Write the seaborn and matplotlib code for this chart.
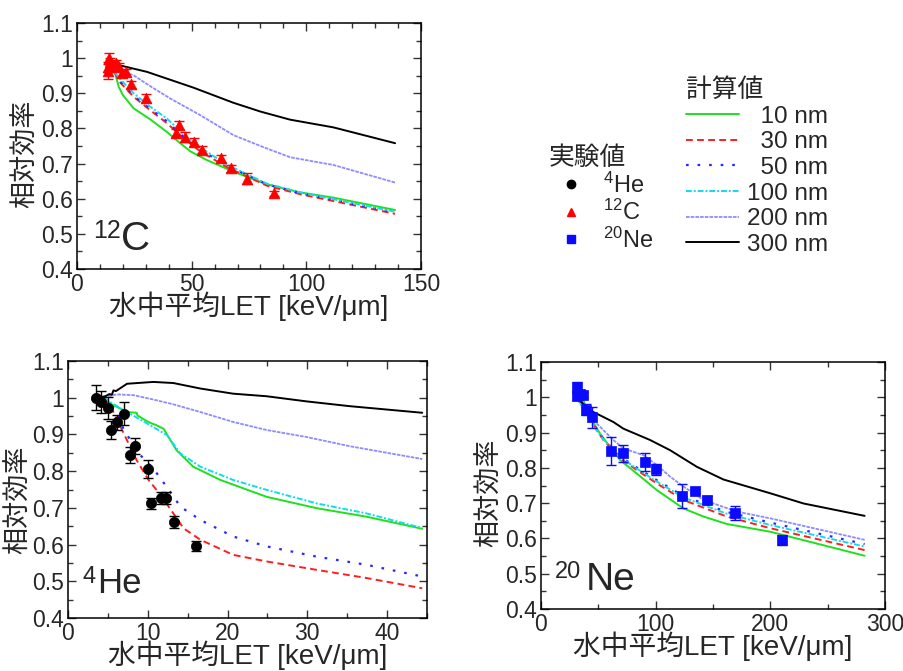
import numpy as np
import pandas as pd
import matplotlib
matplotlib.use("Agg")
import matplotlib.pyplot as plt
from matplotlib.lines import Line2D
from matplotlib.ticker import MultipleLocator
import seaborn as sns

# ---------------- data ----------------
sizes = ["10 nm", "30 nm", "50 nm", "100 nm", "200 nm", "300 nm"]

# 12C calculated curves
c10_x = [16.5, 18.2, 20, 24.7, 31.9, 39.2, 45, 49.4, 56.6, 68.2, 82.8, 97.3, 111.8, 138.7]
c10_y = [0.96, 0.918, 0.895, 0.857, 0.826, 0.79, 0.758, 0.735, 0.71, 0.677, 0.641, 0.618, 0.603, 0.568]
c30_x = [16.5, 18.2, 24.7, 31.9, 39.2, 46.5, 53.7, 65.3, 82.8, 97.3, 138.7]
c30_y = [0.96, 0.935, 0.89, 0.852, 0.815, 0.772, 0.735, 0.69, 0.637, 0.613, 0.557]
c50_y = [0.96, 0.938, 0.893, 0.856, 0.82, 0.776, 0.74, 0.694, 0.641, 0.616, 0.561]
c100_y = [0.96, 0.945, 0.90, 0.862, 0.828, 0.783, 0.746, 0.697, 0.643, 0.618, 0.563]
c200_x = [17, 24.7, 32, 40.7, 53.7, 68.2, 80, 92.9, 111.8, 138.7]
c200_y = [0.970, 0.951, 0.92, 0.885, 0.838, 0.781, 0.75, 0.718, 0.696, 0.646]
c300_x = [17, 30.5, 50.8, 68.2, 80, 92.9, 111.8, 138.7]
c300_y = [0.982, 0.961, 0.916, 0.873, 0.848, 0.825, 0.803, 0.758]

# 12C experiment
c_exp_x = [13.5, 13.6, 13.8, 14.5, 15.2, 16.0, 17.0, 18.2, 19.6, 21.5, 23.4, 30.2, 43.3, 44.3, 47.3, 50.8, 54.3, 62.7, 67.1, 74.1, 85.7]
c_exp_y = [0.962, 0.975, 0.999, 0.99, 0.982, 0.978, 0.985, 0.975, 0.957, 0.960, 0.925, 0.886, 0.787, 0.810, 0.776, 0.762, 0.739, 0.715, 0.686, 0.657, 0.615]
c_exp_e = [0.02, 0.015, 0.015, 0.01, 0.01, 0.015, 0.01, 0.01, 0.01, 0.01, 0.01, 0.012, 0.012, 0.012, 0.015, 0.012, 0.01, 0.01, 0.01, 0.015, 0.008]

# 4He calculated curves
he10_x = [4.5, 5.3, 7.4, 8.6, 8.7, 9.9, 10.5, 11.1, 12.0, 12.6, 13.6, 15.7, 19.1, 24.9, 31.2, 37.4, 44.4]
he10_y = [1.0, 0.984, 0.961, 0.959, 0.952, 0.936, 0.930, 0.925, 0.915, 0.893, 0.857, 0.812, 0.776, 0.730, 0.699, 0.676, 0.643]
he30_x = [4.5, 5.7, 7.2, 8.6, 10.1, 11.6, 13.2, 14.5, 16.6, 20.7, 24.9, 31.2, 37.4, 44.4]
he30_y = [1.0, 0.961, 0.893, 0.830, 0.776, 0.735, 0.685, 0.644, 0.613, 0.572, 0.554, 0.531, 0.509, 0.481]
he50_x = [4.5, 6.1, 7.0, 9.05, 10.7, 12.8, 14.1, 16.6, 20.7, 24.9, 31.2, 37.4, 44.4]
he50_y = [1.0, 0.963, 0.912, 0.844, 0.807, 0.744, 0.703, 0.667, 0.622, 0.595, 0.567, 0.545, 0.513]
he100_x = [4.5, 5.3, 7.4, 9.9, 12.4, 14.1, 16.6, 20.7, 24.9, 31.2, 37.4, 44.4]
he100_y = [1.0, 0.988, 0.961, 0.930, 0.898, 0.848, 0.812, 0.776, 0.749, 0.712, 0.685, 0.645]
he200_x = [4.46, 6.1, 8.2, 10.7, 13.2, 16.6, 20.7, 24.9, 29.9, 35.3, 44.4]
he200_y = [1.001, 1.009, 1.007, 0.995, 0.982, 0.961, 0.934, 0.912, 0.893, 0.868, 0.833]
he300_x = [3.63, 4.67, 5.2, 5.5, 5.7, 6.0, 7.4, 10.7, 13.2, 16.6, 20.7, 24.9, 29.9, 35.3, 44.4]
he300_y = [1.0, 1.004, 1.01, 1.008, 1.02, 1.018, 1.038, 1.043, 1.040, 1.025, 1.011, 1.004, 0.990, 0.977, 0.959]

# 4He experiment
he_exp_x = [3.5, 4.13, 5.0, 5.4, 6.2, 6.96, 7.8, 8.4, 10.05, 10.4, 11.6, 12.3, 13.3, 16.05]
he_exp_y = [1.0, 0.988, 0.971, 0.912, 0.933, 0.957, 0.844, 0.868, 0.806, 0.712, 0.726, 0.726, 0.662, 0.596]
he_exp_e = [0.034, 0.03, 0.03, 0.025, 0.02, 0.03, 0.022, 0.022, 0.025, 0.016, 0.016, 0.016, 0.017, 0.014]

# 20Ne calculated curves
ne10_x = [31.1, 37, 42.8, 51.5, 69, 83.5, 101, 124.2, 141.7, 162, 199.9, 282.2]
ne10_y = [0.999, 0.992, 0.944, 0.897, 0.822, 0.784, 0.737, 0.685, 0.662, 0.641, 0.619, 0.551]
ne30_x = [31.1, 42.8, 54.4, 69, 83.5, 101, 124.2, 162, 199.9, 282.2]
ne30_y = [1.0, 0.935, 0.879, 0.827, 0.794, 0.756, 0.709, 0.662, 0.629, 0.567]
ne50_y = [1.0, 0.937, 0.882, 0.832, 0.801, 0.765, 0.72, 0.675, 0.645, 0.584]
ne100_y = [1.0, 0.933, 0.880, 0.830, 0.798, 0.761, 0.716, 0.670, 0.638, 0.577]
ne200_x = [31.1, 45.7, 54.4, 63.1, 71.9, 89.3, 101, 112.6, 124.2, 141.7, 170.8, 199.9, 282.2]
ne200_y = [1.0, 0.935, 0.907, 0.879, 0.855, 0.836, 0.808, 0.775, 0.747, 0.709, 0.676, 0.657, 0.596]
ne300_x = [31.1, 42.8, 63.1, 71.9, 95.1, 112.6, 135.9, 159.1, 199.9, 229, 282.2]
ne300_y = [0.999, 0.963, 0.930, 0.911, 0.879, 0.850, 0.803, 0.767, 0.728, 0.699, 0.664]

# 20Ne experiment
ne_exp_x = [31.1, 31.7, 34, 37, 39, 44.8, 61.4, 71.9, 91.1, 100.1, 123.1, 134.1, 144.9, 168.8, 210.1]
ne_exp_y = [1.029, 1.003, 1.01, 1.006, 0.965, 0.943, 0.847, 0.841, 0.816, 0.796, 0.720, 0.734, 0.709, 0.673, 0.596]
ne_exp_e = [0.015, 0.01, 0.01, 0.008, 0.015, 0.03, 0.04, 0.025, 0.025, 0.015, 0.035, 0.006, 0.012, 0.02, 0.015]

# ---------------- style ----------------
sns.set_theme(style="ticks")
plt.rcParams["font.family"] = ["Liberation Sans", "Noto Sans CJK JP"]
plt.rcParams["mathtext.fontset"] = "custom"
plt.rcParams["mathtext.rm"] = "Liberation Sans"

line_styles = {
    "10 nm": dict(color="#1ee01e", ls="-", lw=1.4),
    "30 nm": dict(color="#ff1e1e", ls=(0, (3.5, 2.2)), lw=1.4),
    "50 nm": dict(color="#2828ff", ls=(0, (1.2, 4.0)), lw=1.6),
    "100 nm": dict(color="#10dcec", ls=(0, (3, 1, 1, 1)), lw=1.4),
    "200 nm": dict(color="#8c8cff", ls=(0, (2.0, 0.6)), lw=1.3),
    "300 nm": dict(color="#000000", ls="-", lw=1.4),
}

fig = plt.figure(figsize=(9.04, 6.71), dpi=100)

def fpos(l, t, r, b):
    W, H = 904, 671
    return [l / W, 1 - b / H, (r - l) / W, (b - t) / H]

ax_c = fig.add_axes(fpos(77, 23, 421, 269))
ax_he = fig.add_axes(fpos(68, 361, 427, 618))
ax_ne = fig.add_axes(fpos(541, 362, 885, 609))

def draw_curves(ax, curves):
    for name, (xs, ys) in zip(sizes, curves):
        st = line_styles[name]
        df = pd.DataFrame({"x": xs, "y": ys})
        sns.lineplot(data=df, x="x", y="y", ax=ax, sort=False, estimator=None,
                     color=st["color"], linestyle=st["ls"], linewidth=st["lw"],
                     legend=False)

def draw_exp(ax, xs, ys, es, marker, color, ms):
    ax.errorbar(xs, ys, yerr=es, fmt="none", ecolor=color, elinewidth=1.0,
                capsize=3.5, capthick=1.0, zorder=4)
    df = pd.DataFrame({"x": xs, "y": ys})
    sns.scatterplot(data=df, x="x", y="y", ax=ax, marker=marker, color=color,
                    s=ms, edgecolor=color, linewidth=0.5, zorder=5, legend=False)

draw_curves(ax_c, [(c10_x, c10_y), (c30_x, c30_y), (c30_x, c50_y), (c30_x, c100_y),
                   (c200_x, c200_y), (c300_x, c300_y)])
draw_exp(ax_c, c_exp_x, c_exp_y, c_exp_e, "^", "#ff0000", 60)

draw_curves(ax_he, [(he10_x, he10_y), (he30_x, he30_y), (he50_x, he50_y),
                    (he100_x, he100_y), (he200_x, he200_y), (he300_x, he300_y)])
draw_exp(ax_he, he_exp_x, he_exp_y, he_exp_e, "o", "#000000", 55)

draw_curves(ax_ne, [(ne10_x, ne10_y), (ne30_x, ne30_y), (ne30_x, ne50_y),
                    (ne30_x, ne100_y), (ne200_x, ne200_y), (ne300_x, ne300_y)])
draw_exp(ax_ne, ne_exp_x, ne_exp_y, ne_exp_e, "s", "#0a0aff", 50)

xlabel = "水中平均LET [keV/\u03bcm]"
ylabel = "相対効率"

def style_axis(ax, xmax, xmaj, xmin, ylab_x, ylab_y, xlab_y):
    ax.set_xlim(0, xmax)
    ax.set_ylim(0.4, 1.1)
    ax.xaxis.set_major_locator(MultipleLocator(xmaj))
    ax.xaxis.set_minor_locator(MultipleLocator(xmin))
    ax.yaxis.set_major_locator(MultipleLocator(0.1))
    ax.yaxis.set_minor_locator(MultipleLocator(0.05))
    ax.yaxis.set_major_formatter(plt.FuncFormatter(lambda v, p: "1" if abs(v - 1) < 1e-9 else "%.1f" % v))
    ax.tick_params(which="both", direction="in", top=True, right=True,
                   color="#333333", labelsize=16.5, pad=3, width=1.0)
    ax.tick_params(which="major", length=6)
    ax.tick_params(which="minor", length=3.5)
    for s in ax.spines.values():
        s.set_color("black")
        s.set_linewidth(1.1)
        s.set_visible(True)
    ax.set_xlabel(xlabel, fontsize=20, labelpad=0)
    ax.set_ylabel(ylabel, fontsize=19.5, labelpad=0)
    ax.yaxis.set_label_coords(ylab_x, ylab_y)
    ax.xaxis.set_label_coords(0.5, xlab_y)

style_axis(ax_c, 150, 50, 10, -0.11, 0.47, -0.09)
style_axis(ax_he, 45, 10, 5, -0.10, 0.46, -0.088)
style_axis(ax_ne, 300, 100, 50, -0.11, 0.47, -0.09)

def panel_label(ax, sup, main, sx, sy, mx, my, ssz, msz):
    ax.text(sx, sy, sup, transform=ax.transAxes, fontsize=ssz, va="baseline", ha="left")
    ax.text(mx, my, main, transform=ax.transAxes, fontsize=msz, va="baseline", ha="left")

panel_label(ax_c, "12", "C", 0.048, 0.126, 0.128, 0.077, 18, 29)
panel_label(ax_he, "4", "He", 0.040, 0.136, 0.080, 0.097, 17, 25)
panel_label(ax_ne, "20", "Ne", 0.040, 0.126, 0.130, 0.077, 17, 28)

# legends
calc_handles = [Line2D([], [], color=line_styles[n]["color"], ls=line_styles[n]["ls"],
                       lw=line_styles[n]["lw"]) for n in sizes]
calc_labels = ["  10 nm", "  30 nm", "  50 nm", "100 nm", "200 nm", "300 nm"]
leg1 = fig.legend(calc_handles, calc_labels, title="計算値", loc="upper left",
                  bbox_to_anchor=(686 / 904, 1 - 78 / 671), frameon=False, fontsize=17.5,
                  title_fontsize=18.5, handlelength=2.2, handletextpad=0.3,
                  labelspacing=0.15, borderpad=0, borderaxespad=0, alignment="left")

exp_handles = [Line2D([], [], color="#000000", marker="o", ls="none", ms=6),
               Line2D([], [], color="#ff0000", marker="^", ls="none", ms=6),
               Line2D([], [], color="#0a0aff", marker="s", ls="none", ms=5.5)]
exp_labels = [r"$\mathregular{^{4}}$He", r"$\mathregular{^{12}}$C", r"$\mathregular{^{20}}$Ne"]
leg2 = fig.legend(exp_handles, exp_labels, title="実験値", loc="upper left",
                  bbox_to_anchor=(549 / 904, 1 - 146 / 671), frameon=False, fontsize=17,
                  title_fontsize=18.5, handlelength=1.9, handletextpad=0.4,
                  labelspacing=0.1, borderpad=0, borderaxespad=0, alignment="left")

fig.savefig("out.png", dpi=100)
